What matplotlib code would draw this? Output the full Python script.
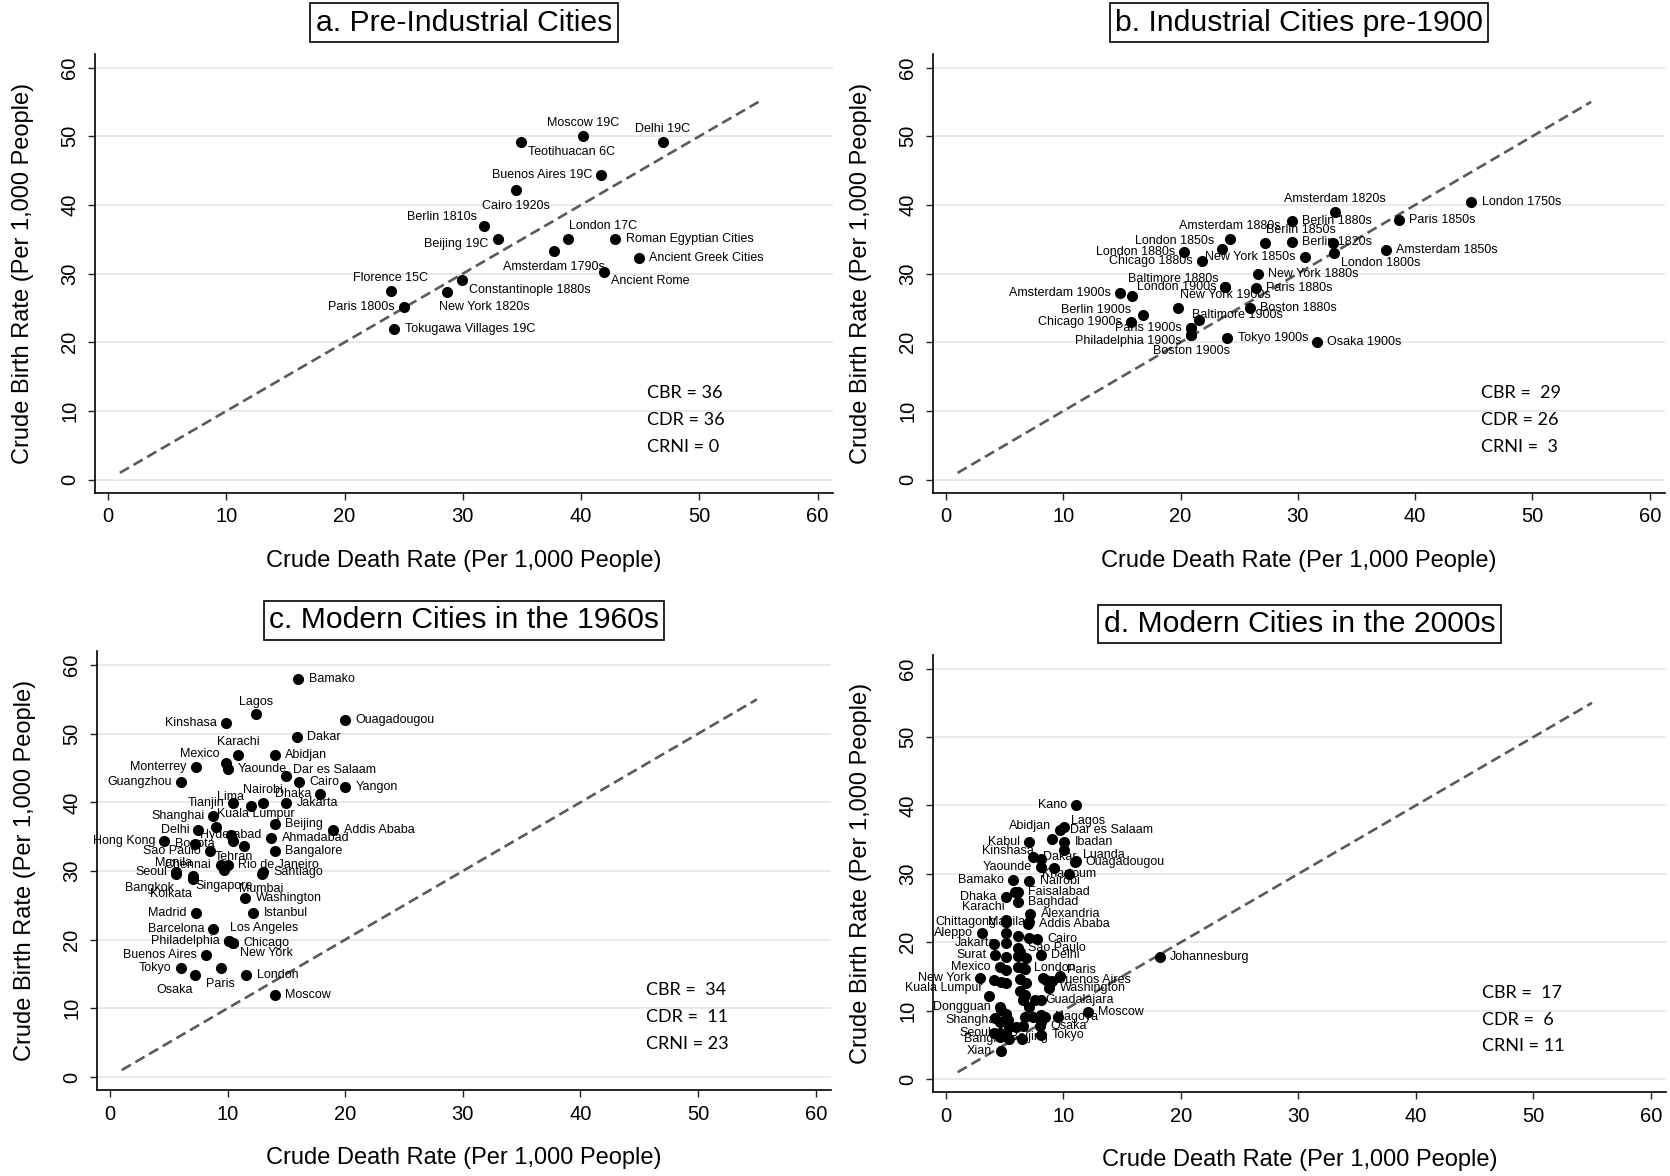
import matplotlib
matplotlib.use("Agg")
import matplotlib.pyplot as plt

plt.rcParams['font.family'] = ['Liberation Sans', 'DejaVu Sans']

# ---- a. pre-industrial cities ----
a_city = ["Moscow 19C", "Delhi 19C", "Teotihuacan 6C", "Buenos Aires 19C", "Cairo 1920s",
          "Berlin 1810s", "Beijing 19C", "London 17C", "Amsterdam 1790s",
          "Roman Egyptian Cities", "Ancient Greek Cities", "Ancient Rome", "Florence 15C",
          "Constantinople 1880s", "New York 1820s", "Paris 1800s", "Tokugawa Villages 19C"]
a_cdr = [40.2, 46.9, 34.9, 41.7, 34.5, 31.8, 33.0, 38.9, 37.7, 42.9, 44.9, 41.9, 23.9,
         29.9, 28.7, 25.0, 24.2]
a_cbr = [50.1, 49.1, 49.1, 44.4, 42.2, 37.0, 35.1, 35.1, 33.3, 35.1, 32.3, 30.3, 27.5,
         29.1, 27.3, 25.1, 22.0]
a_pos = [12, 12, 4, 9, 6, 10, 8, 1, 6, 3, 3, 4, 12, 4, 5, 9, 3]

# ---- b. industrial cities pre-1900 ----
b_city = ["London 1750s", "Amsterdam 1820s", "Berlin 1880s", "Paris 1850s", "Amsterdam 1880s",
          "Berlin 1850s", "Berlin 1820s", "", "London 1800s", "Amsterdam 1850s",
          "London 1850s", "London 1880s", "Chicago 1880s", "New York 1850s", "New York 1880s",
          "Baltimore 1880s", "London 1900s", "Paris 1880s", "Amsterdam 1900s", "Berlin 1900s",
          "New York 1900s", "Boston 1880s", "", "Chicago 1900s", "", "Baltimore 1900s",
          "Paris 1900s", "Philadelphia 1900s", "Boston 1900s", "Tokyo 1900s", "Osaka 1900s"]
b_cdr = [44.8, 33.2, 29.5, 38.6, 24.2, 27.2, 29.5, 33.0, 33.1, 37.5,
         23.5, 20.3, 21.8, 30.6, 26.6, 23.8, 23.8, 26.4, 14.8, 15.9,
         19.8, 25.9, 16.8, 15.8, 21.6, 20.9, 20.9, 20.9, 20.9, 24.0, 31.6]
b_cbr = [40.4, 39.0, 37.6, 37.8, 35.1, 34.4, 34.6, 34.4, 33.0, 33.4,
         33.6, 33.2, 31.9, 32.4, 30.0, 28.0, 28.0, 27.9, 27.2, 26.8,
         25.0, 25.0, 24.0, 22.9, 23.3, 22.1, 22.1, 21.0, 21.0, 20.6, 20.0]
b_pos = [3, 12, 3, 3, 12, 1, 3, 3, 4, 3,
         10, 9, 9, 9, 3, 10, 9, 3, 9, 7,
         1, 3, 3, 9, 3, 1, 9, 8, 6, 3, 3]

# ---- c. modern cities in the 1960s ----
c_city = ["Bamako", "Lagos", "Kinshasa", "Ouagadougou", "Dakar", "Karachi", "Abidjan", "Mexico",
          "Yaounde", "Monterrey", "Guangzhou", "Dar es Salaam", "Cairo", "Yangon", "Dhaka",
          "Nairobi", "Lima", "Tianjin", "Jakarta", "Shanghai", "Kuala Lumpur", "Beijing",
          "Delhi", "Hyderabad", "Addis Ababa", "Ahmadabad", "Hong Kong", "Bogota", "Tehran", "",
          "Bangalore", "Sao Paulo", "Seoul", "Bangkok", "Manila", "Kolkata", "Chennai",
          "Rio de Janeiro", "Singapore", "Santiago", "Mumbai", "Washington", "Madrid",
          "Istanbul", "Barcelona", "Philadelphia", "Los Angeles", "Chicago", "New York",
          "Buenos Aires", "Tokyo", "Osaka", "Paris", "London", "Moscow"]
c_cdr = [16.0, 12.4, 9.9, 20.0, 15.9, 10.9, 14.0, 9.9,
         10.0, 7.3, 6.0, 15.0, 16.1, 20.0, 17.9,
         13.0, 12.0, 10.5, 15.0, 8.8, 9.0, 14.0,
         7.5, 10.3, 19.0, 13.7, 4.6, 7.2, 10.5, 11.4,
         14.0, 8.5, 5.6, 5.6, 7.1, 7.1, 9.4,
         10.0, 9.7, 13.0, 12.9, 11.5, 7.3,
         12.2, 8.8, 10.1, 10.1, 10.5, 10.5,
         8.2, 6.0, 7.2, 9.4, 11.6, 14.0]
c_cbr = [58.0, 52.8, 51.6, 52.0, 49.5, 46.9, 46.9, 45.8,
         44.9, 45.1, 42.9, 43.9, 42.9, 42.2, 41.2,
         39.9, 39.5, 39.9, 39.9, 38.0, 36.4, 36.9,
         35.9, 35.3, 36.0, 34.8, 34.3, 34.0, 34.3, 33.7,
         32.9, 32.9, 29.8, 29.6, 29.3, 28.8, 30.9,
         30.9, 30.1, 29.8, 29.6, 26.1, 23.9,
         23.9, 21.5, 19.8, 19.8, 19.5, 19.5,
         17.7, 15.8, 14.8, 15.8, 14.9, 12.0]
c_pos = [3, 12, 9, 3, 3, 12, 3, 10,
         3, 9, 9, 2, 3, 3, 9,
         12, 10, 9, 3, 9, 1, 3,
         9, 0, 3, 3, 9, 0, 6, 3,
         3, 9, 9, 7, 11, 7, 9,
         3, 6, 3, 6, 3, 9,
         3, 9, 9, 1, 3, 4,
         9, 9, 7, 6, 3, 3]

# ---- d. modern cities in the 2000s ----
d_city = ["Kano", "Lagos", "Dar es Salaam", "Abidjan", "Kabul", "Ibadan", "Kinshasa", "Dakar",
          "Luanda", "Ouagadougou", "Yaounde", "Khartoum", "Bamako", "Nairobi", "Faisalabad",
          "Dhaka", "Baghdad", "Alexandria", "Karachi", "Chittagong", "Manila", "Addis Ababa",
          "Aleppo", "Cairo", "Jakarta", "Sao Paulo", "Surat", "Delhi", "Mexico", "London",
          "Paris", "Buenos Aires", "Washington", "New York", "Kuala Lumpur", "Guadalajara",
          "Dongguan", "Moscow", "Nagoya", "Shanghai", "Osaka", "Tokyo", "Seoul", "Bangkok",
          "Beijing", "Xian", "Johannesburg",
          "", "", "", "", "", "", "", "", "", "", "", "", "", "", "", "", "", "", "", "",
          "", "", "", "", "", "", "", "", "", "", "", "", "", "", "", "", "", "", ""]
d_cdr = [11.1, 10.05, 9.7, 9.05, 7.1, 10.05, 8.1, 7.4,
         11.1, 11.0, 8.1, 10.5, 5.7, 7.1, 6.1,
         5.1, 6.1, 7.2, 5.1, 5.1, 5.15, 7.0,
         3.1, 7.75, 5.1, 6.1, 4.2, 8.1, 4.6, 6.6,
         9.7, 8.55, 8.8, 2.9, 3.7, 7.6,
         4.6, 12.1, 8.4, 5.3, 8.0, 8.1, 4.6, 6.5,
         4.6, 4.7, 18.2,
         10.05, 9.2, 5.9, 7.1, 5.1, 6.1, 7.1, 4.1, 6.3, 5.1, 6.1, 6.85, 5.15, 6.1, 6.7, 4.1,
         4.7, 5.15, 6.3, 6.85, 8.3, 9.0, 6.3, 6.7, 6.6, 7.1, 8.1, 4.7, 5.15, 6.7, 7.4, 8.1,
         9.5, 4.2, 4.6, 5.4, 6.0, 6.6, 8.1, 4.1, 5.15, 5.4]
d_cbr = [40.0, 36.9, 36.4, 35.1, 34.7, 34.7, 32.1, 32.4,
         31.95, 31.7, 31.0, 30.0, 29.1, 29.0, 27.4,
         26.6, 25.85, 24.1, 23.2, 22.9, 22.9, 22.7,
         21.3, 20.4, 19.9, 19.1, 18.15, 18.15, 16.4, 16.2,
         15.1, 14.5, 13.3, 14.7, 12.15, 11.6,
         10.5, 9.85, 9.1, 8.7, 7.75, 6.4, 6.7, 5.85,
         6.2, 4.1, 17.9,
         33.5, 30.8, 27.4, 23.0, 21.3, 20.9, 20.6, 19.8, 18.6, 17.8, 18.0, 17.7, 15.95, 16.4, 16.05, 14.5,
         14.2, 14.0, 14.6, 14.0, 14.7, 14.4, 12.8, 12.3, 11.6, 10.6, 11.6, 10.1, 9.5, 9.1, 9.1, 9.4,
         9.1, 8.9, 8.4, 7.65, 7.65, 7.75, 8.4, 6.7, 6.4, 5.9]
d_pos = [9, 2, 3, 11, 9, 3, 10, 3,
         2, 3, 9, 0, 9, 3, 3,
         9, 3, 3, 11, 9, 0, 3,
         9, 3, 9, 3, 9, 3, 9, 3,
         2, 3, 3, 9, 10, 3,
         9, 3, 3, 9, 3, 3, 9, 9,
         3, 9, 3] + [3] * 43

panel_titles = ["a. Pre-Industrial Cities", "b. Industrial Cities pre-1900",
                "c. Modern Cities in the 1960s", "d. Modern Cities in the 2000s"]
panel_stats = [["CBR = 36", "CDR = 36", "CRNI = 0"],
               ["CBR =  29", "CDR = 26", "CRNI =  3"],
               ["CBR =  34", "CDR =  11", "CRNI = 23"],
               ["CBR =  17", "CDR =  6", "CRNI = 11"]]

# clock position -> (dx pt, dy pt, ha, va)
CLOCK = {
    0: (0, 0, 'center', 'center'),
    1: (1, 5, 'left', 'bottom'),
    2: (5, 4, 'left', 'center'),
    3: (7.5, 0, 'left', 'center'),
    4: (5, -7, 'left', 'center'),
    5: (-6, -6, 'left', 'top'),
    6: (0, -7, 'center', 'top'),
    7: (-1, -6, 'right', 'top'),
    8: (-7, -4, 'right', 'center'),
    9: (-6.5, 0, 'right', 'center'),
    10: (-5, 6, 'right', 'center'),
    11: (-1, 5, 'right', 'bottom'),
    12: (0, 5, 'center', 'bottom'),
}

W, H = 1670, 1176
fig = plt.figure(figsize=(W / 100, H / 100), dpi=100)
fig.patch.set_facecolor('white')

boxes = [(95, 53.8, 738, 439), (933, 53.8, 732, 439),
         (97, 651.3, 734, 438.7), (933, 655, 733, 437)]

data = [(a_city, a_cdr, a_cbr, a_pos), (b_city, b_cdr, b_cbr, b_pos),
        (c_city, c_cdr, c_cbr, c_pos), (d_city, d_cdr, d_cbr, d_pos)]

for i in range(4):
    l, t, w, h = boxes[i]
    ax = fig.add_axes([l / W, 1 - (t + h) / H, w / W, h / H])
    names, xs, ys, pos = data[i]

    ax.set_xlim(-1.1, 61.3)
    ax.set_ylim(-1.9, 62)
    ax.set_xticks(range(0, 61, 10))
    ax.set_yticks(range(0, 61, 10))
    ax.grid(axis='y', color='#e3ebee', lw=1.4)
    ax.set_axisbelow(True)
    for s in ['top', 'right']:
        ax.spines[s].set_visible(False)
    for s in ['left', 'bottom']:
        ax.spines[s].set_linewidth(1.2)
    ax.tick_params(length=5, width=1, color='#222222', labelsize=14.5)
    ax.tick_params(axis='x', pad=5.5)
    ax.tick_params(axis='y', pad=6.5, labelrotation=90)
    plt.setp(ax.get_yticklabels(), va='center')

    ax.plot([1, 55], [1, 55], color='#5a5a5a', lw=1.9, ls=(0, (4.0, 2.0)), zorder=2)
    ax.scatter(xs, ys, s=64, color='black', zorder=4, linewidths=0)
    for n, x, y, p in zip(names, xs, ys, pos):
        if not n:
            continue
        dx, dy, ha, va = CLOCK[p]
        ax.annotate(n, (x, y), xytext=(dx, dy), textcoords='offset points',
                    ha=ha, va=va, fontsize=9, zorder=3)

    for k, line in enumerate(panel_stats[i]):
        ax.text(45.6, 12.6 - 3.9 * k, line, fontsize=13, family=['Lato', 'DejaVu Sans'],
                ha='left', va='center')

    ax.text(0.5, 1 + 31 / h, panel_titles[i], transform=ax.transAxes, ha='center',
            va='center', fontsize=21.7,
            bbox=dict(boxstyle='square,pad=0.18', fc='white', ec='black', lw=1.2))

    ax.set_xlabel('Crude Death Rate (Per 1,000 People)', fontsize=17)
    ax.xaxis.set_label_coords(0.5, -68 / h)
    ax.xaxis.label.set_va('center')
    ax.set_ylabel('Crude Birth Rate (Per 1,000 People)', fontsize=17)
    ax.yaxis.set_label_coords(-72 / w, 0.5)
    ax.yaxis.label.set_va('center')

fig.savefig('out.png', dpi=100)
